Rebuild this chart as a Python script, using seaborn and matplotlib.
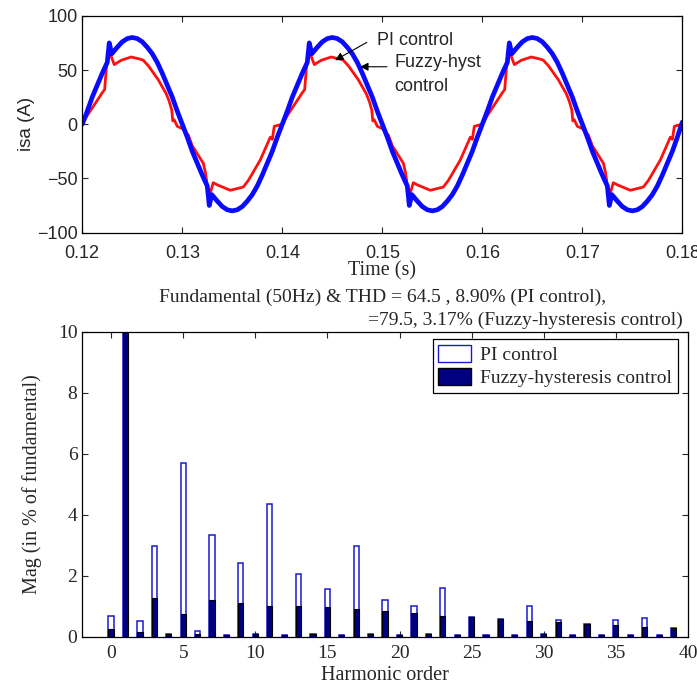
import numpy as np
import pandas as pd
import matplotlib
matplotlib.use("Agg")
import matplotlib.pyplot as plt
import seaborn as sns
from matplotlib.patches import Patch

# ==========================================
# Data
# ==========================================

# phase-a source current, PI control (red trace)
t_pi = [
    0.1200, 0.1205, 0.1210, 0.1215, 0.1220, 0.12224, 0.1224, 0.1226, 0.12275, 0.1232,
    0.1239, 0.1249, 0.1258, 0.1261, 0.1266, 0.1276, 0.1284, 0.1287, 0.12895, 0.12905,
    0.1292, 0.1295, 0.1300, 0.1306, 0.1310, 0.1321, 0.1323, 0.1324, 0.1326, 0.13275,
    0.1331, 0.1335, 0.1348, 0.1361, 0.1366, 0.1378, 0.1388, 0.1390, 0.1392, 0.1396,
    0.1400, 0.1405, 0.1410, 0.1415, 0.1420, 0.14224, 0.1424, 0.1426, 0.14275, 0.1432,
    0.1439, 0.1449, 0.1458, 0.1461, 0.1466, 0.1476, 0.1484, 0.1487, 0.14895, 0.14905,
    0.1492, 0.1495, 0.1500, 0.1506, 0.1510, 0.1521, 0.1523, 0.1524, 0.1526, 0.15275,
    0.1531, 0.1535, 0.1548, 0.1561, 0.1566, 0.1578, 0.1588, 0.1590, 0.1592, 0.1596,
    0.1600, 0.1605, 0.1610, 0.1615, 0.1620, 0.16224, 0.1624, 0.1626, 0.16275, 0.1632,
    0.1639, 0.1649, 0.1658, 0.1661, 0.1666, 0.1676, 0.1684, 0.1687, 0.16895, 0.16905,
    0.1692, 0.1695, 0.1700, 0.1706, 0.1710, 0.1721, 0.1723, 0.1724, 0.1726, 0.17275,
    0.1731, 0.1735, 0.1748, 0.1761, 0.1766, 0.1778, 0.1788, 0.1790, 0.1792, 0.1796,
    0.1800,
]
i_pi = [
    0, 8, 15, 22, 29, 32, 51, 67, 66, 55,
    59, 62, 60, 59, 54, 41, 28, 21, 13, 3,
    4, -2, -4, -10, -20, -36, -44, -50, -66, -65,
    -54, -56, -61, -58, -52, -33, -12, -14, -2, -1,
    0, 8, 15, 22, 29, 32, 51, 67, 66, 55,
    59, 62, 60, 59, 54, 41, 28, 21, 13, 3,
    4, -2, -4, -10, -20, -36, -44, -50, -66, -65,
    -54, -56, -61, -58, -52, -33, -12, -14, -2, -1,
    0, 8, 15, 22, 29, 32, 51, 67, 66, 55,
    59, 62, 60, 59, 54, 41, 28, 21, 13, 3,
    4, -2, -4, -10, -20, -36, -44, -50, -66, -65,
    -54, -56, -61, -58, -52, -33, -12, -14, -2, -1,
    0,
]

# phase-a source current, fuzzy-hysteresis control (blue trace)
t_fz = [
    0.1200, 0.1205, 0.1210, 0.1215, 0.1220, 0.1225, 0.1227, 0.12295, 0.1235, 0.1240,
    0.1245, 0.1250, 0.1255, 0.1260, 0.1265, 0.1270, 0.1275, 0.1280, 0.1285, 0.1290,
    0.1295, 0.1300, 0.1305, 0.1310, 0.1315, 0.1320, 0.1325, 0.1327, 0.13295, 0.1335,
    0.1340, 0.1345, 0.1350, 0.1355, 0.1360, 0.1365, 0.1370, 0.1375, 0.1380, 0.1385,
    0.1390, 0.1395,
    0.1400, 0.1405, 0.1410, 0.1415, 0.1420, 0.1425, 0.1427, 0.14295, 0.1435, 0.1440,
    0.1445, 0.1450, 0.1455, 0.1460, 0.1465, 0.1470, 0.1475, 0.1480, 0.1485, 0.1490,
    0.1495, 0.1500, 0.1505, 0.1510, 0.1515, 0.1520, 0.1525, 0.1527, 0.15295, 0.1535,
    0.1540, 0.1545, 0.1550, 0.1555, 0.1560, 0.1565, 0.1570, 0.1575, 0.1580, 0.1585,
    0.1590, 0.1595,
    0.1600, 0.1605, 0.1610, 0.1615, 0.1620, 0.1625, 0.1627, 0.16295, 0.1635, 0.1640,
    0.1645, 0.1650, 0.1655, 0.1660, 0.1665, 0.1670, 0.1675, 0.1680, 0.1685, 0.1690,
    0.1695, 0.1700, 0.1705, 0.1710, 0.1715, 0.1720, 0.1725, 0.1727, 0.17295, 0.1735,
    0.1740, 0.1745, 0.1750, 0.1755, 0.1760, 0.1765, 0.1770, 0.1775, 0.1780, 0.1785,
    0.1790, 0.1795,
    0.1800,
]
i_fz = [
    0, 12, 25, 36, 47, 57, 75, 65, 71, 76,
    79, 80, 79, 76, 71, 65, 57, 47, 36, 25,
    12, 0, -12, -25, -36, -47, -57, -75, -65, -71,
    -76, -79, -80, -79, -76, -71, -65, -57, -47, -36,
    -25, -12,
    0, 12, 25, 36, 47, 57, 75, 65, 71, 76,
    79, 80, 79, 76, 71, 65, 57, 47, 36, 25,
    12, 0, -12, -25, -36, -47, -57, -75, -65, -71,
    -76, -79, -80, -79, -76, -71, -65, -57, -47, -36,
    -25, -12,
    0, 12, 25, 36, 47, 57, 75, 65, 71, 76,
    79, 80, 79, 76, 71, 65, 57, 47, 36, 25,
    12, 0, -12, -25, -36, -47, -57, -75, -65, -71,
    -76, -79, -80, -79, -76, -71, -65, -57, -47, -36,
    -25, -12,
    2,
]

# harmonic spectrum (in % of fundamental), orders 0..39
harmonic = list(range(40))
mag_pi = [0.68, 100, 0.51, 2.97, 0.09, 5.70, 0.20, 3.33, 0.05, 2.43,
          0.10, 4.34, 0.05, 2.07, 0.10, 1.56, 0.05, 2.97, 0.10, 1.19,
          0.05, 1.01, 0.10, 1.60, 0.05, 0.65, 0.05, 0.59, 0.05, 1.01,
          0.10, 0.56, 0.05, 0.41, 0.05, 0.56, 0.05, 0.60, 0.05, 0.28]
mag_fz = [0.24, 100, 0.14, 1.28, 0.08, 0.74, 0.08, 1.20, 0.05, 1.11,
          0.10, 1.02, 0.05, 1.02, 0.08, 0.97, 0.05, 0.92, 0.08, 0.83,
          0.05, 0.79, 0.08, 0.69, 0.05, 0.65, 0.05, 0.59, 0.05, 0.51,
          0.10, 0.48, 0.05, 0.41, 0.05, 0.37, 0.05, 0.32, 0.05, 0.28]

title_lines = ["Fundamental (50Hz) & THD = 64.5 , 8.90% (PI control),",
               "=79.5, 3.17% (Fuzzy-hysteresis control)"]

# ==========================================
# Style
# ==========================================

sns.set_style("ticks")
plt.rcParams["font.family"] = ["Liberation Sans", "DejaVu Sans"]
plt.rcParams["xtick.direction"] = "in"
plt.rcParams["ytick.direction"] = "in"
plt.rcParams["xtick.top"] = True
plt.rcParams["ytick.right"] = True
plt.rcParams["axes.edgecolor"] = "black"
plt.rcParams["axes.linewidth"] = 0.9

serif = ["Liberation Serif", "DejaVu Serif"]

fig = plt.figure(figsize=(6.97, 6.88), dpi=100)

# ==========================================
# Waveform
# ==========================================

ax1 = fig.add_axes([0.118, 0.662, 0.861, 0.315])

df_pi = pd.DataFrame({"t": t_pi, "i": i_pi})
df_fz = pd.DataFrame({"t": t_fz, "i": i_fz})

sns.lineplot(data=df_pi, x="t", y="i", color="#ff1010", lw=2.0,
             estimator=None, sort=False, ax=ax1)
sns.lineplot(data=df_fz, x="t", y="i", color="#0a0aff", lw=3.4,
             estimator=None, sort=False, ax=ax1)

ax1.set_xlim(0.12, 0.18)
ax1.set_ylim(-100, 100)
ax1.set_xticks(np.arange(0.12, 0.1801, 0.01))
ax1.set_xticklabels([f"{v:.2f}" for v in np.arange(0.12, 0.1801, 0.01)])
ax1.set_yticks([-100, -50, 0, 50, 100])
ax1.tick_params(labelsize=13, length=4, width=0.8)
ax1.tick_params(axis="x", pad=9)
ax1.set_xlabel("Time (s)", family=serif, fontsize=14.5, va="center")
ax1.xaxis.set_label_coords(0.5, -0.175)
ax1.set_ylabel("isa (A)", fontsize=13.5, labelpad=1)

# annotations
arrow = dict(arrowstyle="-|>", color="k", lw=0.8, mutation_scale=12,
             shrinkA=0, shrinkB=0)
ax1.annotate("", xy=(0.14528, 59), xytext=(0.14845, 75.5), arrowprops=arrow)
ax1.annotate("", xy=(0.14778, 53), xytext=(0.15046, 53), arrowprops=arrow)
ax1.text(0.14947, 77.6, "PI control", fontsize=13, va="center", ha="left")
ax1.text(0.15119, 57, "Fuzzy-hyst", fontsize=13, va="center", ha="left")
ax1.text(0.15119, 35, "control", fontsize=13, va="center", ha="left")

# ==========================================
# Harmonic spectrum
# ==========================================

ax2 = fig.add_axes([0.118, 0.0746, 0.869, 0.4433])

sns.barplot(x=harmonic, y=mag_pi, native_scale=True, width=0.36,
            color="white", edgecolor="#1a1acc", linewidth=1.1,
            saturation=1, ax=ax2)
sns.barplot(x=harmonic, y=mag_fz, native_scale=True, width=0.36,
            color="#000080", edgecolor="black", linewidth=0.8,
            saturation=1, ax=ax2)

ax2.set_xlim(-2, 40)
ax2.set_ylim(0, 10)
ax2.set_xticks(range(0, 41, 5))
ax2.set_yticks(range(0, 11, 2))
ax2.tick_params(labelsize=14, length=4, width=0.8)
ax2.tick_params(axis="x", pad=6)
for lab in ax2.get_xticklabels() + ax2.get_yticklabels():
    lab.set_family(serif)
ax2.set_xlabel("Harmonic order", family=serif, fontsize=14.5, labelpad=3)
ax2.set_ylabel("Mag (in % of fundamental)", family=serif, fontsize=14.5,
               labelpad=11)

ax2.text(0.495, 1.114, title_lines[0], transform=ax2.transAxes,
         ha="center", va="center", family=serif, fontsize=14)
ax2.text(0.992, 1.038, title_lines[1], transform=ax2.transAxes,
         ha="right", va="center", family=serif, fontsize=14)

handles = [Patch(facecolor="white", edgecolor="#1a1acc", label="PI control"),
           Patch(facecolor="#000080", edgecolor="black",
                 label="Fuzzy-hysteresis control")]
leg = ax2.legend(handles=handles, loc="upper right",
                 bbox_to_anchor=(0.9835, 0.976), borderaxespad=0,
                 fancybox=False, framealpha=1, edgecolor="black",
                 prop={"family": serif, "size": 14}, handlelength=1.65,
                 handleheight=0.95, handletextpad=0.5, borderpad=0.3,
                 labelspacing=0.2)
leg.get_frame().set_linewidth(0.9)

fig.savefig("out.png", dpi=100, facecolor="white")
